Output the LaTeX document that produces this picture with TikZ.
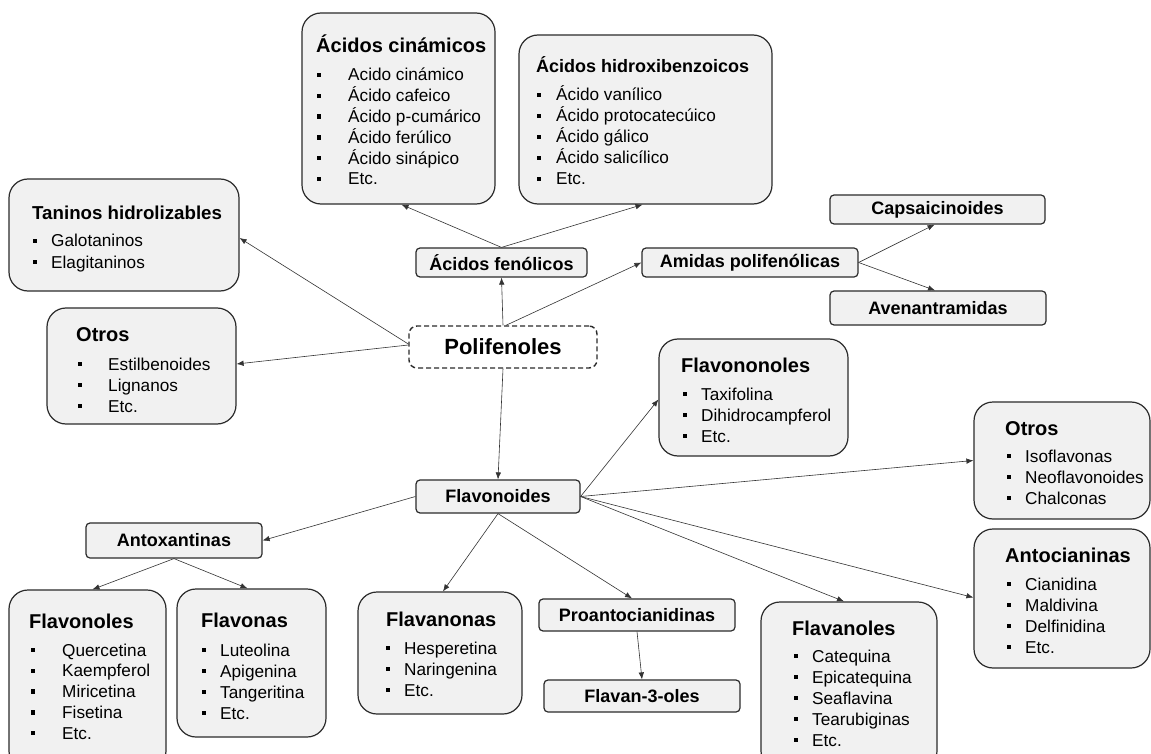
\documentclass[tikz,border=0pt]{standalone}
\usepackage{fontspec}
\setmainfont{Liberation Sans}
\usetikzlibrary{arrows.meta}
\definecolor{boxfill}{HTML}{F1F1F1}
\definecolor{boxline}{HTML}{2B2B2B}
\definecolor{connline}{HTML}{333333}
\tikzset{
  bigbox/.style={draw=boxline, fill=boxfill, line width=1.2pt, rounded corners=19pt, inner sep=0pt},
  smallbox/.style={draw=boxline, fill=boxfill, line width=1.2pt, rounded corners=4pt, inner sep=0pt,
    font=\fontsize{18}{20}\selectfont\bfseries},
  polbox/.style={draw=boxline, fill=white, line width=1.4pt, dash pattern=on 5pt off 3pt,
    rounded corners=8pt, inner sep=0pt, font=\fontsize{22}{24}\selectfont\bfseries},
  ttl/.style={inner sep=0pt, font=\fontsize{20}{24}\selectfont\bfseries},
  itm/.style={inner sep=0pt, font=\fontsize{17.2}{20}\selectfont},
  bul/.style={fill=black, inner sep=0pt, minimum size=4.3pt},
  conn/.style={draw=connline, line width=0.6pt, -{Latex[length=7pt,width=5.5pt]}},
}
\newcommand\mklist[6]{%
  \foreach \t [count=\i] in {#6} {
    \pgfmathsetmacro\yy{#4+(\i-1)*#5}
    \node[bul] (#1-b\i) at (#2,\yy) {};
    \node[itm, anchor=base west] (#1-t\i) at (#3,\yy+6) {\t};
  }%
}
\begin{document}
\begin{tikzpicture}[x=1pt,y=-1pt]
\useasboundingbox (0,0) rectangle (1151,754);
\fill[white] (0,0) rectangle (1151,754);
\clip (0,0) rectangle (1151,754);

% big list boxes
\node[bigbox, minimum width=193pt, minimum height=191pt] (cin) at (398.5,108.5) {};
\node[bigbox, minimum width=253pt, minimum height=169pt] (hid) at (645.5,119.5) {};
\node[bigbox, minimum width=230pt, minimum height=112pt] (tan) at (124,235) {};
\node[bigbox, minimum width=189pt, minimum height=116pt] (otl) at (141.5,366) {};
\node[bigbox, minimum width=189pt, minimum height=117pt] (fnn) at (753.5,397.5) {};
\node[bigbox, minimum width=176pt, minimum height=117pt] (otr) at (1062,460.5) {};
\node[bigbox, minimum width=176pt, minimum height=139pt] (ant) at (1062,598.5) {};
\node[bigbox, minimum width=157pt, minimum height=180pt] (fvl) at (87.5,680) {};
\node[bigbox, minimum width=149pt, minimum height=148pt] (fvs) at (251.5,663) {};
\node[bigbox, minimum width=164pt, minimum height=122pt] (fvn) at (440,653) {};
\node[bigbox, minimum width=176pt, minimum height=168pt] (fla) at (849,686) {};

% small label boxes
\node[smallbox, minimum width=171pt, minimum height=29pt] (acf) at (501.5,262.5) {Ácidos fenólicos};
\node[smallbox, minimum width=216pt, minimum height=29pt] (ami) at (750,262.5) {Amidas polifenólicas};
\node[smallbox, minimum width=215pt, minimum height=29pt] (cap) at (937.5,209.5) {Capsaicinoides};
\node[smallbox, minimum width=216pt, minimum height=34pt] (ave) at (938,308) {Avenantramidas};
\node[smallbox, minimum width=164pt, minimum height=33pt] (flv) at (498,496.5) {Flavonoides};
\node[smallbox, minimum width=176pt, minimum height=35pt] (atx) at (174,540.5) {Antoxantinas};
\node[smallbox, minimum width=196pt, minimum height=32pt] (pro) at (637,615) {Proantocianidinas};
\node[smallbox, minimum width=196pt, minimum height=32pt] (f3o) at (642,696) {Flavan-3-oles};
\node[polbox, minimum width=188pt, minimum height=42pt] (pol) at (503,347) {Polifenoles};

% titles
\node[ttl, anchor=base west] (cin-h) at (316,53) {Ácidos cinámicos};
\node[ttl, anchor=base west, font=\fontsize{18}{22}\selectfont\bfseries] (hid-h) at (536,72.5) {Ácidos hidroxibenzoicos};
\node[ttl, anchor=base west, font=\fontsize{18.7}{22}\selectfont\bfseries] (tan-h) at (32,219.5) {Taninos hidrolizables};
\node[ttl, anchor=base west] (otl-h) at (76,341) {Otros};
\node[ttl, anchor=base west] (fnn-h) at (681,372) {Flavononoles};
\node[ttl, anchor=base west] (otr-h) at (1005,435) {Otros};
\node[ttl, anchor=base west] (ant-h) at (1005,562) {Antocianinas};
\node[ttl, anchor=base west] (fvl-h) at (29,628) {Flavonoles};
\node[ttl, anchor=base west] (fvs-h) at (201,627) {Flavonas};
\node[ttl, anchor=base west] (fvn-h) at (386,626) {Flavanonas};
\node[ttl, anchor=base west] (fla-h) at (792,635) {Flavanoles};

% bullet lists
\mklist{cin}{319}{348}{75}{20.8}{Acido cinámico,Ácido cafeico,Ácido p-cumárico,Ácido ferúlico,Ácido sinápico,Etc.}
\mklist{hid}{539}{556}{95}{21}{Ácido vanílico,Ácido protocatecúico,Ácido gálico,Ácido salicílico,Etc.}
\mklist{tan}{35}{51}{241}{21}{Galotaninos,Elagitaninos}
\mklist{otl}{80}{108}{364}{21}{Estilbenoides,Lignanos,Etc.}
\mklist{fnn}{685}{701}{394}{21}{Taxifolina,Dihidrocampferol,Etc.}
\mklist{otr}{1009}{1025}{456}{21}{Isoflavonas,Neoflavonoides,Chalconas}
\mklist{ant}{1009}{1025}{584}{21}{Cianidina,Maldivina,Delfinidina,Etc.}
\mklist{fvl}{33}{62}{650}{20.8}{Quercetina,Kaempferol,Miricetina,Fisetina,Etc.}
\mklist{fvs}{204}{220}{650}{21}{Luteolina,Apigenina,Tangeritina,Etc.}
\mklist{fvn}{388}{404}{648}{21}{Hesperetina,Naringenina,Etc.}
\mklist{fla}{796}{812}{656}{21}{Catequina,Epicatequina,Seaflavina,Tearubiginas,Etc.}

% connectors
\draw[conn] (pol.north) -- (acf.south);
\draw[conn] ([xshift=3pt]pol.north) -- (ami.west);
\draw[conn] ([yshift=3pt]pol.west) -- ([yshift=-3pt]tan.east);
\draw[conn] ([yshift=2pt]pol.west) -- ([yshift=2pt]otl.east);
\draw[conn] (pol.south) -- (flv.north);
\draw[conn] (acf.north) -- ([xshift=3pt]cin.south);
\draw[conn] (acf.north) -- ([xshift=-3pt]hid.south);
\draw[conn] (ami.east) -- ([xshift=-3pt]cap.south);
\draw[conn] (ami.east) -- ([xshift=-3pt]ave.north);
\draw[conn] (flv.east) -- ([yshift=-2pt]fnn.west);
\draw[conn] (flv.east) -- (otr.west);
\draw[conn] (flv.east) -- ([yshift=1pt]ant.west);
\draw[conn] (flv.east) -- ([xshift=-5pt]fla.north);
\draw[conn] (flv.south) -- ([xshift=3pt]fvn.north);
\draw[conn] (flv.south) -- ([xshift=-5pt]pro.north);
\draw[conn] (flv.west) -- (atx.east);
\draw[conn] (atx.south) -- ([xshift=5pt]fvl.north);
\draw[conn] (atx.south) -- ([xshift=-4pt]fvs.north);
\draw[conn] (pro.south) -- (f3o.north);
\end{tikzpicture}
\end{document}
